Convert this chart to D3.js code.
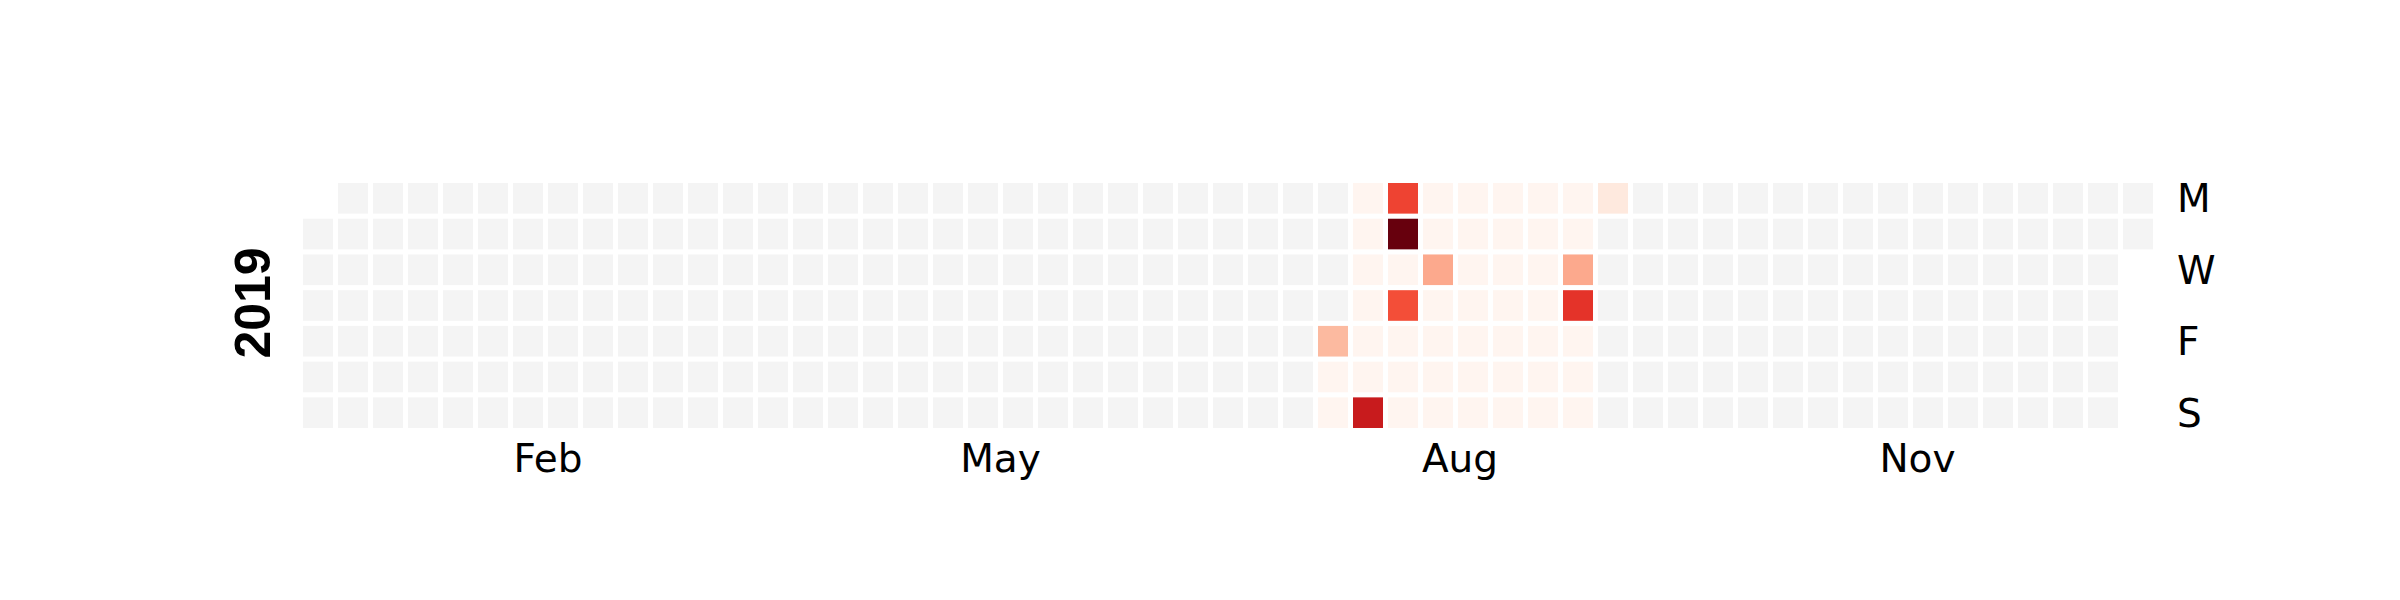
<!DOCTYPE html>
<html>
<head>
<meta charset="utf-8">
<script src="https://cdn.jsdelivr.net/npm/d3@7"></script>
<style>
  body { margin: 0; background: #fff; }
</style>
</head>
<body>
<div id="chart"></div>
<script>
// dates with events in 2019 and their counts; every other day is empty
const eventDates = [
  "2019-07-26", "2019-07-27", "2019-07-28",
  "2019-07-29", "2019-07-30", "2019-07-31", "2019-08-01", "2019-08-02", "2019-08-03", "2019-08-04",
  "2019-08-05", "2019-08-06", "2019-08-07", "2019-08-08", "2019-08-09", "2019-08-10", "2019-08-11",
  "2019-08-12", "2019-08-13", "2019-08-14", "2019-08-15", "2019-08-16", "2019-08-17", "2019-08-18",
  "2019-08-19", "2019-08-20", "2019-08-21", "2019-08-22", "2019-08-23", "2019-08-24", "2019-08-25",
  "2019-08-26", "2019-08-27", "2019-08-28", "2019-08-29", "2019-08-30", "2019-08-31", "2019-09-01",
  "2019-09-02", "2019-09-03", "2019-09-04", "2019-09-05", "2019-09-06", "2019-09-07", "2019-09-08",
  "2019-09-09", "2019-09-10", "2019-09-11", "2019-09-12", "2019-09-13", "2019-09-14", "2019-09-15",
  "2019-09-16"
];
const eventValues = [
  26, 1, 1,
  1, 1, 1, 1, 1, 1, 76,
  61, 100, 1, 58, 1, 1, 1,
  1, 1, 31, 1, 1, 1, 1,
  1, 1, 1, 1, 1, 1, 1,
  1, 1, 1, 1, 1, 1, 1,
  1, 1, 1, 1, 1, 1, 1,
  1, 1, 31, 66, 1, 1, 1,
  8
];
const year = 2019;
const dayLabels = ["M", "", "W", "", "F", "", "S"];
const monthTicks = ["Feb", "May", "Aug", "Nov"];
const monthTickIdx = [1, 4, 7, 10];

const w = 2400, h = 600;
const gridLeft = 303, gridTop = 183, pitch = 35, cell = 30;

const valueByDay = new Map(eventDates.map((d, i) => [d, eventValues[i]]));
const days = d3.utcDays(new Date(Date.UTC(year, 0, 1)), new Date(Date.UTC(year + 1, 0, 1)));
const start = d3.utcMonday.floor(days[0]);
const weekOf = (d) => d3.utcMonday.count(start, d);
const dow = (d) => (d.getUTCDay() + 6) % 7;
const fmt = d3.utcFormat("%Y-%m-%d");

const xScale = d3.scaleLinear().domain([0, 53]).range([gridLeft, gridLeft + 53 * pitch]);
const yScale = d3.scaleBand().domain(d3.range(7)).range([gridTop, gridTop + 7 * pitch]).paddingInner(5 / 35);
const color = d3.scaleSequential(d3.interpolateReds).domain([d3.min(eventValues), d3.max(eventValues)]);

const svg = d3.select("#chart").append("svg").attr("width", w).attr("height", h);

svg.selectAll("rect")
  .data(days)
  .enter()
  .append("rect")
  .attr("x", (d) => xScale(weekOf(d)))
  .attr("y", (d) => yScale(dow(d)))
  .attr("width", cell)
  .attr("height", yScale.bandwidth())
  .attr("fill", (d) => valueByDay.has(fmt(d)) ? color(valueByDay.get(fmt(d))) : "#f4f4f4");

// month labels at the mean week of each month
monthTicks.forEach((m, i) => {
  const md = days.filter((d) => d.getUTCMonth() === monthTickIdx[i]);
  const mean = d3.mean(md, weekOf);
  svg.append("text")
    .attr("x", xScale(mean + 1) - 2.5)
    .attr("y", 472)
    .attr("text-anchor", "middle")
    .style("font-family", "DejaVu Sans")
    .style("font-size", "39px")
    .text(m);
});

svg.selectAll(".day")
  .data(dayLabels)
  .enter()
  .append("text")
  .attr("class", "day")
  .attr("x", 2177)
  .attr("y", (d, i) => yScale(i) + yScale.bandwidth() / 2)
  .attr("dy", "0.36em")
  .style("font-family", "DejaVu Sans")
  .style("font-size", "39px")
  .text((d) => d);

svg.append("text")
  .attr("transform", `translate(270, ${gridTop + 7 * pitch / 2 - 2.5}) rotate(-90)`)
  .attr("text-anchor", "middle")
  .style("font-family", "Liberation Sans")
  .style("font-weight", "bold")
  .style("font-size", "50px")
  .text(year);
</script>
</body>
</html>
